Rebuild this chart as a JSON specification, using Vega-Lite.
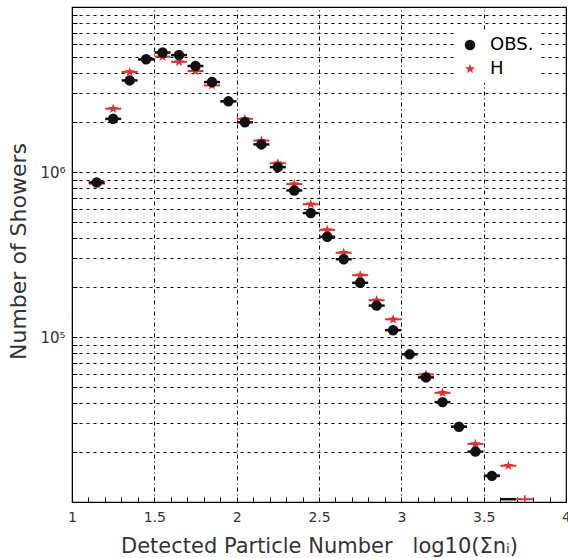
{
  "$schema": "https://vega.github.io/schema/vega-lite/v6.json",
  "autosize": {"type": "none"},
  "padding": {"left": 72, "top": 7, "right": 2, "bottom": 56},
  "width": 494,
  "height": 495,
  "background": "white",
  "config": {"view": {"stroke": "black", "strokeWidth": 1.2}, "font": "DejaVu Sans"},
  "data": {"values": [
    {"x": 1.15, "series": "H", "n": 850000},
    {"x": 1.25, "series": "H", "n": 2420000},
    {"x": 1.35, "series": "H", "n": 4040000},
    {"x": 1.45, "series": "H", "n": 4800000},
    {"x": 1.55, "series": "H", "n": 5000000},
    {"x": 1.65, "series": "H", "n": 4650000},
    {"x": 1.75, "series": "H", "n": 4090000},
    {"x": 1.85, "series": "H", "n": 3350000},
    {"x": 1.95, "series": "H", "n": 2680000},
    {"x": 2.05, "series": "H", "n": 2100000},
    {"x": 2.15, "series": "H", "n": 1550000},
    {"x": 2.25, "series": "H", "n": 1130000},
    {"x": 2.35, "series": "H", "n": 845000},
    {"x": 2.45, "series": "H", "n": 638000},
    {"x": 2.55, "series": "H", "n": 446000},
    {"x": 2.65, "series": "H", "n": 324000},
    {"x": 2.75, "series": "H", "n": 237000},
    {"x": 2.85, "series": "H", "n": 167000},
    {"x": 2.95, "series": "H", "n": 128000},
    {"x": 3.05, "series": "H", "n": 79000},
    {"x": 3.15, "series": "H", "n": 59300},
    {"x": 3.25, "series": "H", "n": 45900},
    {"x": 3.35, "series": "H", "n": 28600},
    {"x": 3.45, "series": "H", "n": 22500},
    {"x": 3.55, "series": "H", "n": 14500},
    {"x": 3.65, "series": "H", "n": 16600},
    {"x": 3.75, "series": "H", "n": 10400},
    {"x": 1.15, "series": "OBS.", "n": 865000},
    {"x": 1.25, "series": "OBS.", "n": 2100000},
    {"x": 1.35, "series": "OBS.", "n": 3590000},
    {"x": 1.45, "series": "OBS.", "n": 4820000},
    {"x": 1.55, "series": "OBS.", "n": 5300000},
    {"x": 1.65, "series": "OBS.", "n": 5110000},
    {"x": 1.75, "series": "OBS.", "n": 4390000},
    {"x": 1.85, "series": "OBS.", "n": 3510000},
    {"x": 1.95, "series": "OBS.", "n": 2680000},
    {"x": 2.05, "series": "OBS.", "n": 2000000},
    {"x": 2.15, "series": "OBS.", "n": 1470000},
    {"x": 2.25, "series": "OBS.", "n": 1070000},
    {"x": 2.35, "series": "OBS.", "n": 773000},
    {"x": 2.45, "series": "OBS.", "n": 564000},
    {"x": 2.55, "series": "OBS.", "n": 405000},
    {"x": 2.65, "series": "OBS.", "n": 296000},
    {"x": 2.75, "series": "OBS.", "n": 213000},
    {"x": 2.85, "series": "OBS.", "n": 155000},
    {"x": 2.95, "series": "OBS.", "n": 110000},
    {"x": 3.05, "series": "OBS.", "n": 78500},
    {"x": 3.15, "series": "OBS.", "n": 56900},
    {"x": 3.25, "series": "OBS.", "n": 40300},
    {"x": 3.35, "series": "OBS.", "n": 28600},
    {"x": 3.45, "series": "OBS.", "n": 20200},
    {"x": 3.55, "series": "OBS.", "n": 14400},
    {"x": 3.65, "series": "OBS.", "n": 10400}
  ]},
  "resolve": {"axis": {"x": "independent"}},
  "encoding": {
    "y": {
      "field": "n", "type": "quantitative",
      "scale": {"type": "log", "domain": [10000, 10000000], "nice": false},
      "axis": {
        "values": [20000, 30000, 40000, 50000, 60000, 70000, 80000, 90000, 100000, 200000, 300000, 400000, 500000, 600000, 700000, 800000, 900000, 1000000, 2000000, 3000000, 4000000, 5000000, 6000000, 7000000, 8000000, 9000000],
        "labelExpr": "datum.value==1000000 ? '10⁶' : datum.value==100000 ? '10⁵' : ''",
        "labelOverlap": false,
        "tickSize": -5,
        "tickColor": "black",
        "domainColor": "black",
        "labelFontSize": 15,
        "labelColor": "#333",
        "labelPadding": 12,
        "grid": true,
        "gridDash": [3, 4],
        "gridColor": "black",
        "gridWidth": 1,
        "title": "Number of Showers",
        "titleFontSize": 22,
        "titleFontWeight": "normal",
        "titleColor": "#333",
        "titleX": -47,
        "titleY": 244,
        "titleAngle": 270,
        "titleAlign": "center",
        "titleBaseline": "alphabetic"
      }
    }
  },
  "layer": [
    {
      "transform": [{"filter": "datum.series == 'H'"}],
      "mark": {"type": "tick", "orient": "horizontal", "size": 16, "thickness": 2, "color": "#ee2b2b", "opacity": 1, "clip": true},
      "encoding": {
        "x": {
          "field": "x", "type": "quantitative",
          "scale": {"domain": [1, 4], "nice": false, "zero": false},
          "axis": {
            "orient": "top", "values": [1.5, 2, 2.5, 3, 3.5],
            "grid": true, "gridDash": [4, 3, 1, 3], "gridColor": "black", "gridWidth": 1, "gridOpacity": 1,
            "ticks": false, "labels": false, "domain": false, "title": null
          }
        }
      }
    },
    {
      "transform": [{"filter": "datum.series == 'H' && datum.n < 10500"}],
      "mark": {"type": "tick", "orient": "vertical", "size": 8, "thickness": 1.5, "color": "#ee2b2b", "opacity": 1, "clip": true},
      "encoding": {
        "x": {"field": "x", "type": "quantitative", "axis": null}
      }
    },
    {
      "transform": [{"filter": "datum.series == 'OBS.'"}],
      "mark": {"type": "tick", "orient": "horizontal", "size": 16, "thickness": 2.5, "color": "#111", "opacity": 1, "clip": true},
      "encoding": {
        "x": {
          "field": "x", "type": "quantitative",
          "axis": {
            "orient": "bottom",
            "values": [1, 1.1, 1.2, 1.3, 1.4, 1.5, 1.6, 1.7, 1.8, 1.9, 2, 2.1, 2.2, 2.3, 2.4, 2.5, 2.6, 2.7, 2.8, 2.9, 3, 3.1, 3.2, 3.3, 3.4, 3.5, 3.6, 3.7, 3.8, 3.9, 4],
            "labelExpr": "abs(datum.value*2-round(datum.value*2))<0.001 ? toString(round(datum.value*10)/10) : ''",
            "labelFlush": false,
            "labelOverlap": false,
            "grid": false,
            "tickSize": -5,
            "tickColor": "black",
            "domainColor": "black",
            "labelFontSize": 14,
            "labelColor": "#333",
            "labelPadding": 13,
            "labelBaseline": "top",
            "title": "Detected Particle Number\u00a0\u00a0\u00a0log10(Σnᵢ)",
            "titleFontSize": 21,
            "titleFontWeight": "normal",
            "titleColor": "#333",
            "titleY": 50,
            "titleBaseline": "alphabetic"
          }
        }
      }
    },
    {
      "transform": [{"filter": "datum.n > 10500"}],
      "mark": {"type": "point", "filled": true, "opacity": 1, "size": 110, "clip": true},
      "encoding": {
        "x": {"field": "x", "type": "quantitative", "axis": null},
        "color": {
          "field": "series", "type": "nominal",
          "scale": {"domain": ["OBS.", "H"], "range": ["#111111", "#ee2b2b"]},
          "legend": {
            "orient": "none", "legendX": 384, "legendY": 24, "title": null,
            "fillColor": "white", "padding": 5, "labelFontSize": 18, "labelFont": "DejaVu Sans",
            "symbolSize": 110, "rowPadding": 6, "labelOffset": 11, "symbolStrokeWidth": 0,
            "encode": {"labels": {"update": {"fill": [{"test": "datum.label === 'H'", "value": "#ee2b2b"}, {"value": "#222222"}]}}}
          }
        },
        "shape": {
          "field": "series", "type": "nominal",
          "scale": {"domain": ["OBS.", "H"], "range": ["circle", "M0,-1L0.235,-0.324L0.951,-0.309L0.38,0.124L0.588,0.809L0,0.4L-0.588,0.809L-0.38,0.124L-0.951,-0.309L-0.235,-0.324Z"]}
        }
      }
    }
  ]
}
